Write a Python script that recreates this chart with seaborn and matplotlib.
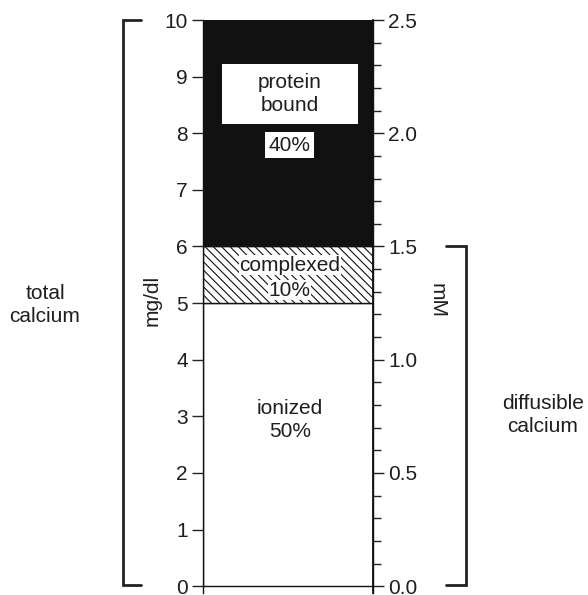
import matplotlib
matplotlib.use("Agg")
import matplotlib.pyplot as plt
import seaborn as sns
import numpy as np
from matplotlib.ticker import MultipleLocator

sns.set_theme(style="white")
plt.rcParams['font.family'] = ['Liberation Sans', 'DejaVu Sans']
plt.rcParams['hatch.linewidth'] = 0.8

# Data (mg/dl)
segments = ["ionized", "complexed", "protein bound"]
heights = [5.0, 1.0, 4.0]
labels = ["ionized\n50%", "complexed\n10%", "protein\nbound"]
mgdl_ticks = list(range(0, 11))
mm_ticks = [0.0, 0.5, 1.0, 1.5, 2.0, 2.5]

FS = 15
TC = "#1e1e1e"
LS = 1.25

fig = plt.figure(figsize=(5.88, 5.95), dpi=100)
ax = fig.add_axes([203/588, 2/595, 170/588, 573/595])

bottoms = np.concatenate([[0], np.cumsum(heights)[:-1]])
faces = ["white", "white", "#111111"]
hatches = [None, "\\\\\\\\", None]
for h, b, fc, ht in zip(heights, bottoms, faces, hatches):
    sns.barplot(x=[0], y=[h], bottom=b, width=1.0, color=fc, edgecolor="#111111",
                linewidth=1.0, hatch=ht, ax=ax, saturation=1)

ax.set_xlim(-0.5, 0.5)
ax.set_ylim(-0.12, 10)
ax.set_xticks([])
ax.set_yticks(mgdl_ticks)
ax.set_yticklabels([str(t) for t in mgdl_ticks])
ax.tick_params(axis="y", which="major", left=True, length=8, width=1, pad=3,
               labelsize=FS, color="#222222", labelcolor=TC)
for s in ["top", "bottom"]:
    ax.spines[s].set_visible(False)
for s in ["left", "right"]:
    ax.spines[s].set_color("#111111")
    ax.spines[s].set_linewidth(1)
ax.set_ylabel("")
ax.set_xlabel("")

ax2 = ax.twinx()
ax2.set_ylim(-0.03, 2.5)
ax2.set_yticks(mm_ticks)
ax2.set_yticklabels([f"{t:.1f}" for t in mm_ticks])
ax2.yaxis.set_minor_locator(MultipleLocator(0.1))
ax2.tick_params(axis="y", which="major", right=True, length=8, width=1, pad=3,
                labelsize=FS, color="#222222", labelcolor=TC)
ax2.tick_params(axis="y", which="minor", right=True, length=6, width=1, color="#222222")
for s in ["top", "bottom", "left"]:
    ax2.spines[s].set_visible(False)
ax2.spines["right"].set_color("#111111")
ax2.grid(False)
ax.grid(False)

# in-bar labels
ax.add_patch(plt.Rectangle((-0.388, 8.16), 0.8, 1.06, facecolor="white", edgecolor="none", zorder=3))
ax.text(0.01, 8.69, labels[2], ha="center", va="center", fontsize=FS, color=TC,
        linespacing=LS, zorder=4)
ax.text(0.01, 7.79, "40%", ha="center", va="center", fontsize=FS, color=TC, zorder=4,
        bbox=dict(facecolor="white", edgecolor="none", pad=2.5))
ax.text(0.01, 5.67, "complexed", ha="center", va="center", fontsize=FS, color=TC, zorder=4,
        bbox=dict(facecolor="white", edgecolor="none", pad=0.5))
ax.text(0.01, 5.23, "10%", ha="center", va="center", fontsize=FS, color=TC, zorder=4,
        bbox=dict(facecolor="white", edgecolor="none", pad=0.5))
ax.text(0.01, 2.93, labels[0], ha="center", va="center", fontsize=FS, color=TC,
        linespacing=LS, zorder=4)

tr = ax.get_yaxis_transform()
# brackets
xl, xl2 = (123-203)/170, (141-203)/170
ax.plot([xl2, xl, xl, xl2], [10, 10, 0.03, 0.03], color="#222222", lw=2, transform=tr,
        clip_on=False, solid_joinstyle="miter")
xr, xr2 = (466-203)/170, (446-203)/170
ax.plot([xr2, xr, xr, xr2], [6, 6, 0.03, 0.03], color="#222222", lw=2, transform=tr,
        clip_on=False, solid_joinstyle="miter")

ax.text((45-203)/170, 4.96, "total\ncalcium", ha="center", va="center", fontsize=FS,
        color=TC, linespacing=LS, transform=tr)
ax.text((543-203)/170, 3.02, "diffusible\ncalcium", ha="center", va="center", fontsize=FS,
        color=TC, linespacing=LS, transform=tr)
ax.text((152-203)/170, 5.05, "mg/dl", ha="center", va="center", fontsize=FS,
        color=TC, rotation=90, transform=tr)
ax.text((437-203)/170, 5.05, "mM", ha="center", va="center", fontsize=FS,
        color=TC, rotation=270, transform=tr)

fig.savefig("out.png", dpi=100)
